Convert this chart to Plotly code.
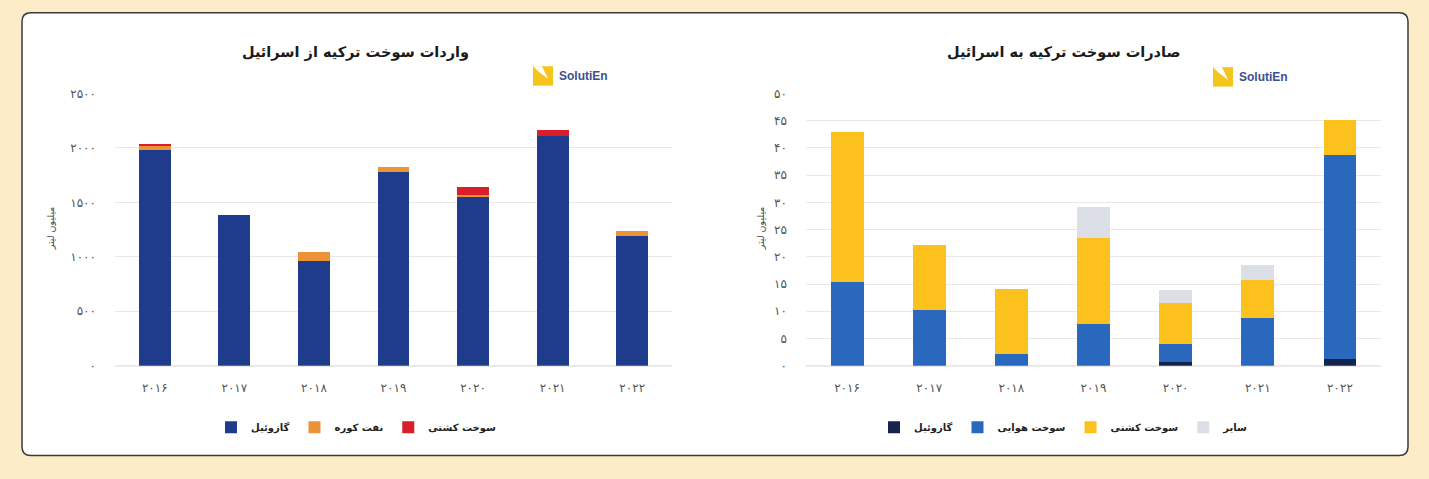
import plotly.graph_objects as go

W, H = 1429, 479

# ---------------- data ----------------
years = ['۲۰۱۶', '۲۰۱۷', '۲۰۱۸', '۲۰۱۹', '۲۰۲۰', '۲۰۲۱', '۲۰۲۲']

# Imports of fuel from Israel (million litres)
imp_gasoil = [1980, 1385, 965, 1780, 1550, 2110, 1195]
imp_fueloil = [40, 0, 80, 40, 15, 0, 45]
imp_shipfuel = [5, 0, 0, 0, 75, 50, 0]

# Exports of fuel to Israel (million litres)
exp_gasoil = [0, 0, 0, 0, 0.7, 0, 1.3]
exp_jetfuel = [15.4, 10.2, 2.2, 7.6, 3.2, 8.8, 37.4]
exp_shipfuel = [27.5, 12.0, 11.9, 15.8, 7.7, 6.9, 6.5]
exp_other = [0, 0, 0, 5.7, 2.3, 2.7, 0]

imp_ticks = [0, 500, 1000, 1500, 2000, 2500]
imp_ticktext = ['۰', '۵۰۰', '۱۰۰۰', '۱۵۰۰', '۲۰۰۰', '۲۵۰۰']
exp_ticks = [0, 5, 10, 15, 20, 25, 30, 35, 40, 45, 50]
exp_ticktext = ['۰', '۵', '۱۰', '۱۵', '۲۰', '۲۵', '۳۰', '۳۵', '۴۰', '۴۵', '۵۰']

title_imp = 'واردات سوخت ترکیه از اسرائیل'
title_exp = 'صادرات سوخت ترکیه به اسرائیل'
ytitle = 'میلیون لیتر'
names_imp = ['گازوئیل', 'نفت کوره', 'سوخت کشتی']
names_exp = ['گازوئیل', 'سوخت هوایی', 'سوخت کشتی', 'سایر']

FONT = 'DejaVu Sans'

def px(x):
    return x / W

def py(y):
    return 1 - y / H

fig = go.Figure()

# left chart traces
for vals, name, col in zip([imp_gasoil, imp_fueloil, imp_shipfuel], names_imp,
                           ['#1f3c8c', '#ec933a', '#d81f2a']):
    fig.add_trace(go.Bar(x=years, y=vals, name=name, marker=dict(color=col, line=dict(width=0)),
                         xaxis='x', yaxis='y', legend='legend'))

# right chart traces
for vals, name, col in zip([exp_gasoil, exp_jetfuel, exp_shipfuel, exp_other], names_exp,
                           ['#14244d', '#2a68bd', '#fcc11c', '#dcdfe6']):
    fig.add_trace(go.Bar(x=years, y=vals, name=name, marker=dict(color=col, line=dict(width=0)),
                         xaxis='x2', yaxis='y2', legend='legend2'))

ydom = [py(369.5), py(89)]
grid = '#e9e9e9'
tickfont = dict(family=FONT, size=12, color='#555555')
legfont = dict(family=FONT, size=10, color='#222222', weight='bold')

fig.update_layout(
    width=W, height=H,
    margin=dict(l=0, r=0, t=0, b=0),
    paper_bgcolor='#fdecc8',
    plot_bgcolor='rgba(0,0,0,0)',
    barmode='stack',
    bargap=0.6,
    font=dict(family=FONT, color='#222222'),
    xaxis=dict(domain=[px(115), px(672)], showgrid=False, zeroline=False, showline=False,
               ticks='', tickfont=tickfont, ticklabelstandoff=13, fixedrange=True),
    yaxis=dict(domain=ydom, range=[0, 2500], tickvals=imp_ticks, ticktext=imp_ticktext,
               showgrid=True, gridcolor=grid, gridwidth=1, zeroline=True, zerolinecolor=grid,
               showline=False, ticks='', tickfont=tickfont, ticklabelstandoff=18),
    xaxis2=dict(domain=[px(806), px(1381)], anchor='y2', showgrid=False, zeroline=False,
                showline=False, ticks='', tickfont=tickfont, ticklabelstandoff=13),
    yaxis2=dict(domain=ydom, anchor='x2', range=[0, 50], tickvals=exp_ticks, ticktext=exp_ticktext,
                showgrid=True, gridcolor=grid, gridwidth=1, zeroline=True, zerolinecolor=grid,
                showline=False, ticks='', tickfont=tickfont, ticklabelstandoff=18),
    legend=dict(orientation='h', x=px(356), xanchor='center', y=py(433), yanchor='middle',
                font=legfont, bgcolor='rgba(0,0,0,0)', traceorder='normal', itemclick=False),
    legend2=dict(orientation='h', x=px(1064), xanchor='center', y=py(433), yanchor='middle',
                 font=legfont, bgcolor='rgba(0,0,0,0)', traceorder='normal', itemclick=False),
)

# white rounded card
x0, y0, x1, y1, r = px(22), py(6), px(1408), py(462), 9
rx, ry = r / W, r / H
path = (f"M {x0+rx},{y0} L {x1-rx},{y0} Q {x1},{y0} {x1},{y0-ry} "
        f"L {x1},{y1+ry} Q {x1},{y1} {x1-rx},{y1} L {x0+rx},{y1} Q {x0},{y1} {x0},{y1+ry} "
        f"L {x0},{y0-ry} Q {x0},{y0} {x0+rx},{y0} Z")
fig.add_shape(type='path', path=path, xref='paper', yref='paper', fillcolor='white',
              line=dict(color='#3a3a3a', width=1.5), layer='below')

annotations = []
# titles
for cx, t in [(355, title_imp), (1064, title_exp)]:
    annotations.append(dict(x=px(cx), y=py(47), xref='paper', yref='paper', text='<b>' + t + '</b>',
                            showarrow=False, xanchor='center', yanchor='middle',
                            font=dict(family=FONT, size=14.5, color='#1a1a1a')))
# y-axis titles
for cx in [50, 760]:
    annotations.append(dict(x=px(cx), y=py(228), xref='paper', yref='paper', text=ytitle,
                            showarrow=False, textangle=-90, xanchor='center', yanchor='middle',
                            font=dict(family=FONT, size=9.5, color='#444444')))
# logos
for lx, ly in [(533, 71), (1213, 72)]:
    s = 20
    fig.add_shape(type='rect', xref='paper', yref='paper', x0=px(lx), x1=px(lx + s),
                  y0=py(ly + s / 2), y1=py(ly - s / 2), fillcolor='#f5c41d', line=dict(width=0))
    fig.add_shape(type='path', xref='paper', yref='paper',
                  path=(f"M {px(lx)},{py(ly - s/2)} L {px(lx + 9)},{py(ly - s/2)} "
                        f"L {px(lx + 15)},{py(ly + 3)} L {px(lx + 6)},{py(ly - 4)} Z"),
                  fillcolor='white', line=dict(width=0))
    annotations.append(dict(x=px(lx + s + 4), y=py(ly), xref='paper', yref='paper',
                            text='<b>SolutiEn</b>', showarrow=False, xanchor='left', yanchor='middle',
                            font=dict(family='Liberation Sans', size=12, color='#3d4f8e')))

fig.update_layout(annotations=annotations)

fig.write_html('out.html', config={'displayModeBar': False},
               post_script="document.body.style.margin='0';")
